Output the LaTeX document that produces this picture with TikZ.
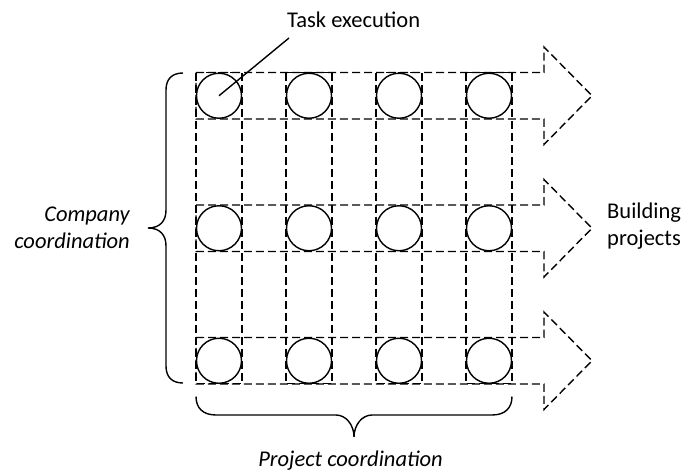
\documentclass[tikz,border=0pt]{standalone}
\usepackage{fontspec}
\setmainfont{Carlito}
\begin{document}
\begin{tikzpicture}[x=1pt,y=-1pt,
  lane/.style={dash pattern=on 8pt off 4pt, line width=1.4pt},
  task/.style={circle, draw, line width=1.4pt, minimum size=45pt, inner sep=0pt},
  brc/.style={line width=1.4pt},
  lbl/.style={font=\fontsize{22.5}{27}\selectfont, inner sep=0pt}]
\useasboundingbox (0,0) rectangle (687,471);

% project columns
\foreach \i in {0,...,3}
  \draw[lane] (196+90*\i,72.5) rectangle ++(46,311);

% company rows, drawn as open arrows
\foreach \yt in {72.5,205,337.5}
  \draw[lane] (196,\yt) -- (544,\yt) -- (544,\yt-25.5) -- (592,\yt+23.25)
    -- (544,\yt+72) -- (544,\yt+46.5) -- (196,\yt+46.5) -- cycle;

% task executions at the crossings
\foreach \j in {0,1,2}
  \foreach \i in {0,...,3}
    \node[task] (t\j\i) at (219+90*\i,95.75+132.5*\j) {};

% leader to the label
\node[lbl, anchor=base west] (te) at (287,27) {Task execution};
\coordinate (lead) at (289,38);
\draw[brc] (t00.center) -- (lead);

% company brace
\draw[brc] (183,73) .. controls (172,73) and (166,79) .. (166,90) -- (166,210)
  .. controls (166,221) and (160,228) .. (148,228)
  .. controls (160,228) and (166,235) .. (166,246) -- (166,366)
  .. controls (166,377) and (172,383) .. (183,383);

% project brace
\draw[brc] (196,396.5) .. controls (196,408) and (203,415) .. (216,415) -- (336,415)
  .. controls (346,415) and (354,425) .. (354,437)
  .. controls (354,425) and (362,415) .. (372,415) -- (492,415)
  .. controls (505,415) and (512,408) .. (512,396.5);

% two-line labels: the base anchor sits on the last line
\node[lbl, font=\fontsize{22.5}{27}\selectfont\itshape, align=right, anchor=base east]
  (cc) at (130,248) {Company\\coordination};
\node[lbl, align=left, anchor=base west] (bp) at (607,245) {Building\\projects};
\node[lbl, font=\fontsize{22.5}{27}\selectfont\itshape, anchor=base] (pc) at (350.5,466)
  {Project coordination};
\end{tikzpicture}
\end{document}
